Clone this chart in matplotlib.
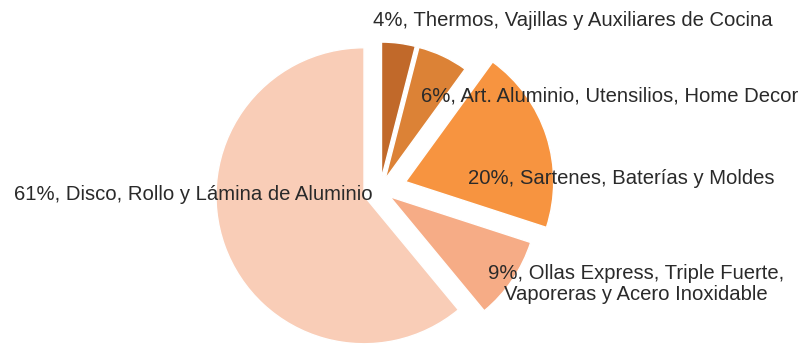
import matplotlib.pyplot as plt

plt.rcParams["font.family"] = ["Liberation Sans", "DejaVu Sans"]

# product lines, clockwise from 12 o'clock
categories = [
    "Thermos, Vajillas y Auxiliares de Cocina",
    "Art. Aluminio, Utensilios, Home Decor",
    "Sartenes, Baterías y Moldes",
    "Ollas Express, Triple Fuerte,\nVaporeras y Acero Inoxidable",
    "Disco, Rollo y Lámina de Aluminio",
]
shares = [4, 6, 20, 9, 61]
colors = ["#C1692A", "#DC8236", "#F79440", "#F6AC86", "#F9CDB7"]

W, H = 807, 348  # axes work in figure pixels
cx, cy, r = 380, H - 190, 148
explode = [12, 12, 27, 12, 17]  # pie explode is in data units

# label anchor points (pixels from top-left)
label_pos = [(573, 20), (610, 96), (621, 178), (636, 284), (193, 195)]

fig = plt.figure(figsize=(W / 100, H / 100), dpi=100)
ax = fig.add_axes([0, 0, 1, 1])

wedges, _ = ax.pie(
    shares,
    explode=explode,
    colors=colors,
    startangle=90,
    counterclock=False,
    center=(cx, cy),
    radius=r,
    wedgeprops=dict(edgecolor="white", linewidth=1),
)
# the two thin slices are drawn a bit shorter in the original
for w in wedges[:2]:
    w.set_radius(136)

for share, name, (lx, ly) in zip(shares, categories, label_pos):
    ax.text(
        lx, H - ly, f"{share}%, {name}",
        ha="center", va="center", multialignment="center",
        fontsize=14.6, color="#2a2a2a", linespacing=1.15,
    )

ax.set_xlim(0, W)
ax.set_ylim(0, H)
ax.set_aspect("equal")
ax.axis("off")

fig.savefig("out.png", dpi=100)
